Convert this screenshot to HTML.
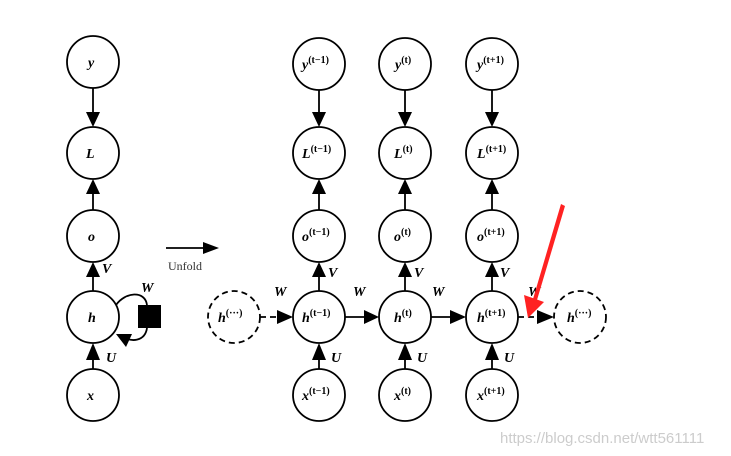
<!DOCTYPE html>
<html><head><style>
html,body{margin:0;padding:0;background:#fff;}
svg{display:block;}
text{font-family:"Liberation Serif",serif;font-weight:bold;font-style:italic;fill:#000;}
.s{font-size:10px;font-style:normal;}
</style></head><body>
<svg width="731" height="456" viewBox="0 0 731 456" xmlns="http://www.w3.org/2000/svg">
<g fill="none" stroke="#000" stroke-width="1.8">
<circle cx="93" cy="62" r="26"/>
<circle cx="93" cy="153" r="26"/>
<circle cx="93" cy="236" r="26"/>
<circle cx="93" cy="317" r="26"/>
<circle cx="93" cy="395" r="26"/>
<line x1="93" y1="88" x2="93" y2="112"/>
<line x1="93" y1="210" x2="93" y2="194"/>
<line x1="93" y1="291" x2="93" y2="277"/>
<line x1="93" y1="369" x2="93" y2="360"/>
<path d="M116,305 C125,292 145,290 147,305 M147,328 C145,342 130,342 124,337"/>
<circle cx="319" cy="64" r="26"/><circle cx="405" cy="64" r="26"/><circle cx="492" cy="64" r="26"/>
<circle cx="319" cy="153" r="26"/><circle cx="405" cy="153" r="26"/><circle cx="492" cy="153" r="26"/>
<circle cx="319" cy="236" r="26"/><circle cx="405" cy="236" r="26"/><circle cx="492" cy="236" r="26"/>
<circle cx="319" cy="317" r="26"/><circle cx="405" cy="317" r="26"/><circle cx="492" cy="317" r="26"/>
<circle cx="319" cy="395" r="26"/><circle cx="405" cy="395" r="26"/><circle cx="492" cy="395" r="26"/>
<circle cx="234" cy="317" r="26" stroke-dasharray="6,4"/>
<circle cx="580" cy="317" r="26" stroke-dasharray="6,4"/>
<line x1="319" y1="90" x2="319" y2="112"/><line x1="405" y1="90" x2="405" y2="112"/><line x1="492" y1="90" x2="492" y2="112"/>
<line x1="319" y1="210" x2="319" y2="194"/><line x1="405" y1="210" x2="405" y2="194"/><line x1="492" y1="210" x2="492" y2="194"/>
<line x1="319" y1="291" x2="319" y2="277"/><line x1="405" y1="291" x2="405" y2="277"/><line x1="492" y1="291" x2="492" y2="277"/>
<line x1="319" y1="369" x2="319" y2="360"/><line x1="405" y1="369" x2="405" y2="360"/><line x1="492" y1="369" x2="492" y2="360"/>
<line x1="260" y1="317" x2="277" y2="317" stroke-dasharray="6,4"/>
<line x1="345" y1="317" x2="364" y2="317"/>
<line x1="431" y1="317" x2="450" y2="317"/>
<line x1="518" y1="317" x2="537" y2="317" stroke-dasharray="6,4"/>
<line x1="166" y1="248" x2="203" y2="248"/>
</g>
<g fill="#000">
<polygon points="86,112 100,112 93,127"/>
<polygon points="312,112 326,112 319,127"/><polygon points="398,112 412,112 405,127"/><polygon points="485,112 499,112 492,127"/>
<polygon points="86,194 100,194 93,179"/><polygon points="86,277 100,277 93,262"/><polygon points="86,360 100,360 93,343"/>
<polygon points="312,194 326,194 319,179"/><polygon points="398,194 412,194 405,179"/><polygon points="485,194 499,194 492,179"/>
<polygon points="312,277 326,277 319,262"/><polygon points="398,277 412,277 405,262"/><polygon points="485,277 499,277 492,262"/>
<polygon points="312,360 326,360 319,343"/><polygon points="398,360 412,360 405,343"/><polygon points="485,360 499,360 492,343"/>
<polygon points="277,310 277,324 293,317"/><polygon points="364,310 364,324 379,317"/>
<polygon points="450,310 450,324 466,317"/><polygon points="537,310 537,324 554,317"/>
<polygon points="203,242 203,254 219,248"/>
<rect x="138" y="305" width="23" height="23"/>
<polygon points="116,334 132,334 126,347"/>
</g>
<text x="168" y="270" style="font-style:normal;font-weight:normal;font-size:12px;fill:#333">Unfold</text>
<g font-size="14">
<text x="88" y="67">y</text><text x="86" y="158">L</text><text x="88" y="241">o</text><text x="88" y="322">h</text><text x="87" y="400">x</text>
<text x="102" y="273">V</text><text x="141" y="292">W</text><text x="106" y="362">U</text>
<text x="302" y="69">y<tspan class="s" dy="-6">(t−1)</tspan></text>
<text x="395" y="69">y<tspan class="s" dy="-6">(t)</tspan></text>
<text x="477" y="69">y<tspan class="s" dy="-6">(t+1)</tspan></text>
<text x="302" y="158">L<tspan class="s" dy="-6">(t−1)</tspan></text>
<text x="394" y="158">L<tspan class="s" dy="-6">(t)</tspan></text>
<text x="477" y="158">L<tspan class="s" dy="-6">(t+1)</tspan></text>
<text x="302" y="241">o<tspan class="s" dy="-6">(t−1)</tspan></text>
<text x="394" y="241">o<tspan class="s" dy="-6">(t)</tspan></text>
<text x="477" y="241">o<tspan class="s" dy="-6">(t+1)</tspan></text>
<text x="302" y="322">h<tspan class="s" dy="-6">(t−1)</tspan></text>
<text x="394" y="322">h<tspan class="s" dy="-6">(t)</tspan></text>
<text x="477" y="322">h<tspan class="s" dy="-6">(t+1)</tspan></text>
<text x="302" y="400">x<tspan class="s" dy="-6">(t−1)</tspan></text>
<text x="394" y="400">x<tspan class="s" dy="-6">(t)</tspan></text>
<text x="477" y="400">x<tspan class="s" dy="-6">(t+1)</tspan></text>
<text x="218" y="322">h<tspan class="s" dy="-6">(···)</tspan></text>
<text x="567" y="322">h<tspan class="s" dy="-6">(···)</tspan></text>
<text x="328" y="277">V</text><text x="414" y="277">V</text><text x="500" y="277">V</text>
<text x="331" y="362">U</text><text x="417" y="362">U</text><text x="504" y="362">U</text>
<text x="274" y="296">W</text><text x="353" y="296">W</text><text x="432" y="296">W</text><text x="528" y="296">W</text>
</g>
<polygon points="561,204 565,206 537,300 533,299" fill="#f22"/>
<polygon points="524,295 544,302 528,318" fill="#f22"/>
<text x="500" y="443" style="font-family:'Liberation Sans',sans-serif;font-style:normal;font-weight:normal;font-size:15px;fill:#ccc">https://blog.csdn.net/wtt561111</text>
</svg>
</body></html>
